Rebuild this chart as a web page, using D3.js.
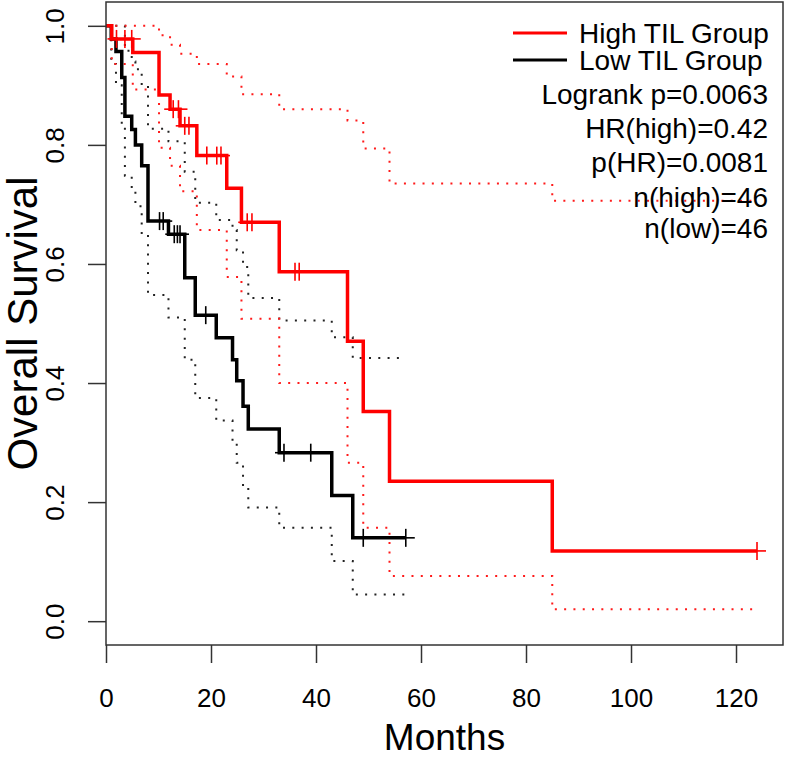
<!DOCTYPE html>
<meta charset="utf-8">
<head>
<style>
body { margin: 0; background: #fff; }
svg { display: block; }
text { font-family: "Liberation Sans", Arial, Helvetica, sans-serif; fill: #000; }
.axis path { display: none; }
.axis line { stroke: #333; stroke-width: 1.5; }
.axis text { font-size: 26px; }
.km { fill: none; stroke-width: 3.5; }
.ci { fill: none; stroke-width: 2; stroke-dasharray: 2 7.3; }
.cens { stroke-width: 1.6; }
.legtext { font-size: 28px; }
</style>
</head>
<body>
<svg width="786" height="761"></svg>
<script src="https://d3js.org/d3.v7.min.js"></script>
<script>

// High TIL group: step times (months), survival and 95% CI
var highTime  = [0, 1.1, 5.1, 10.1, 12.2, 14.1, 17.3, 23.0, 25.8, 33.0, 46.0, 49.0, 54.0, 85.0];
var highSurv  = [1, 0.978, 0.955, 0.884, 0.860, 0.832, 0.782, 0.727, 0.670, 0.587, 0.470, 0.352, 0.235, 0.118];
var highUpper = [1, 1, 1, 0.984, 0.968, 0.953, 0.936, 0.915, 0.885, 0.860, 0.841, 0.794, 0.735, 0.706];
var highLower = [1, 0.936, 0.893, 0.795, 0.765, 0.722, 0.657, 0.578, 0.508, 0.400, 0.266, 0.157, 0.076, 0.020];
var highEnd = 124;
var highCensor = [2.0, 3.6, 4.9, 12.8, 13.8, 15.0, 15.8, 19.2, 21.1, 21.9, 26.9, 27.8, 36.0, 36.8, 124];

// Low TIL group
var lowTime  = [0, 1.0, 1.9, 3.0, 3.6, 4.9, 5.6, 6.8, 8.0, 11.9, 15.0, 17.0, 21.0, 24.1, 24.9, 26.1, 27.1, 33.0, 43.0, 47.0];
var lowSurv  = [1, 0.978, 0.957, 0.913, 0.848, 0.826, 0.800, 0.765, 0.672, 0.650, 0.577, 0.514, 0.476, 0.439, 0.404, 0.361, 0.323, 0.283, 0.211, 0.140];
var lowUpper = [1, 1, 1, 1, 0.958, 0.940, 0.927, 0.900, 0.827, 0.806, 0.755, 0.703, 0.674, 0.657, 0.623, 0.595, 0.543, 0.505, 0.477, 0.442];
var lowLower = [1, 0.936, 0.900, 0.835, 0.748, 0.724, 0.697, 0.650, 0.548, 0.510, 0.439, 0.375, 0.337, 0.300, 0.266, 0.227, 0.191, 0.157, 0.101, 0.045];
var lowEnd = 57.1;
var lowCensor = [10.2, 10.9, 13.0, 13.6, 14.1, 19.0, 33.9, 39.0, 49.0, 57.1];

var xTicks = [0, 20, 40, 60, 80, 100, 120];
var yTicks = [0, 0.2, 0.4, 0.6, 0.8, 1.0];

var legendNames = ["High TIL Group", "Low TIL Group"];
var legendColors = ["#ff0000", "#000000"];
var statLines = ["Logrank p=0.0063", "HR(high)=0.42", "p(HR)=0.0081", "n(high)=46", "n(low)=46"];

var svg = d3.select("svg"),
    plotL = 106, plotR = 783, plotT = 2, plotB = 645;

var x = d3.scaleLinear().domain([0, 128.95]).range([plotL, plotR]);
var y = d3.scaleLinear().domain([-0.04, 1.04]).range([plotB, plotT]);

var step = d3.line()
    .x(function(d) { return x(d[0]); })
    .y(function(d) { return y(d[1]); })
    .curve(d3.curveStepAfter);

function pts(times, vals, end) {
  var p = times.map(function(t, i) { return [t, vals[i]]; });
  p.push([end, vals[vals.length - 1]]);
  return p;
}

function survAt(times, vals, t) {
  var v = vals[0];
  for (var i = 0; i < times.length; i++) if (times[i] <= t) v = vals[i];
  return v;
}

var groups = [
  { time: lowTime, surv: lowSurv, up: lowUpper, lo: lowLower, end: lowEnd, cens: lowCensor, color: "#000000", dot: "#222" },
  { time: highTime, surv: highSurv, up: highUpper, lo: highLower, end: highEnd, cens: highCensor, color: "#ff0000", dot: "#ff1a1a" }
];

// confidence bands first
groups.forEach(function(g) {
  [g.up, g.lo].forEach(function(b) {
    svg.append("path").attr("class", "ci")
      .attr("stroke", g.dot)
      .attr("d", step(pts(g.time, b, g.end)));
  });
});

groups.forEach(function(g) {
  svg.append("path").attr("class", "km")
    .attr("stroke", g.color)
    .attr("d", step(pts(g.time, g.surv, g.end)));

  var c = svg.append("g").selectAll("g")
    .data(g.cens)
    .enter().append("g")
      .attr("transform", function(d) { return "translate(" + x(d) + "," + y(survAt(g.time, g.surv, d)) + ")"; });
  c.append("line").attr("class", "cens").attr("stroke", g.color)
    .attr("x1", 0).attr("x2", 0).attr("y1", -9).attr("y2", 9);
  c.append("line").attr("class", "cens").attr("stroke", g.color)
    .attr("x1", -9).attr("x2", 9).attr("y1", 0).attr("y2", 0);
});

// axes
var xAxis = svg.append("g").attr("class", "axis")
    .attr("transform", "translate(0," + plotB + ")")
    .call(d3.axisBottom(x).tickValues(xTicks).tickSize(18).tickFormat(d3.format("d")));
xAxis.selectAll("text").attr("y", 62).attr("dy", 0);

var yAxis = svg.append("g").attr("class", "axis")
    .attr("transform", "translate(" + plotL + ",0)")
    .call(d3.axisLeft(y).tickValues(yTicks).tickSize(18).tickFormat(d3.format(".1f")));
yAxis.selectAll("text")
    .attr("x", 0).attr("dy", 0)
    .attr("text-anchor", "middle")
    .attr("transform", "translate(-42,0) rotate(-90)");

svg.append("rect")
    .attr("x", plotL).attr("y", plotT)
    .attr("width", plotR - plotL).attr("height", plotB - plotT)
    .attr("fill", "none").attr("stroke", "#333").attr("stroke-width", 1.5);

svg.append("text")
    .attr("x", (plotL + plotR) / 2).attr("y", 750)
    .attr("text-anchor", "middle")
    .style("font-size", "37px")
    .text("Months");

svg.append("text")
    .attr("transform", "translate(37," + ((plotT + plotB) / 2) + ") rotate(-90)")
    .attr("text-anchor", "middle")
    .style("font-size", "42px")
    .text("Overall Survival");

// legend
var legY = [33, 60];
legendNames.forEach(function(n, i) {
  svg.append("line")
    .attr("x1", 513).attr("x2", 567)
    .attr("y1", legY[i]).attr("y2", legY[i])
    .attr("stroke", legendColors[i]).attr("stroke-width", 3);
  svg.append("text").attr("class", "legtext")
    .attr("x", 579).attr("y", legY[i] + 10)
    .text(n);
});

var statY = [94, 128, 162, 197, 228];
statLines.forEach(function(s, i) {
  svg.append("text").attr("class", "legtext")
    .attr("x", 768).attr("y", statY[i] + 10)
    .attr("text-anchor", "end")
    .text(s);
});

</script>
</body>
</html>
